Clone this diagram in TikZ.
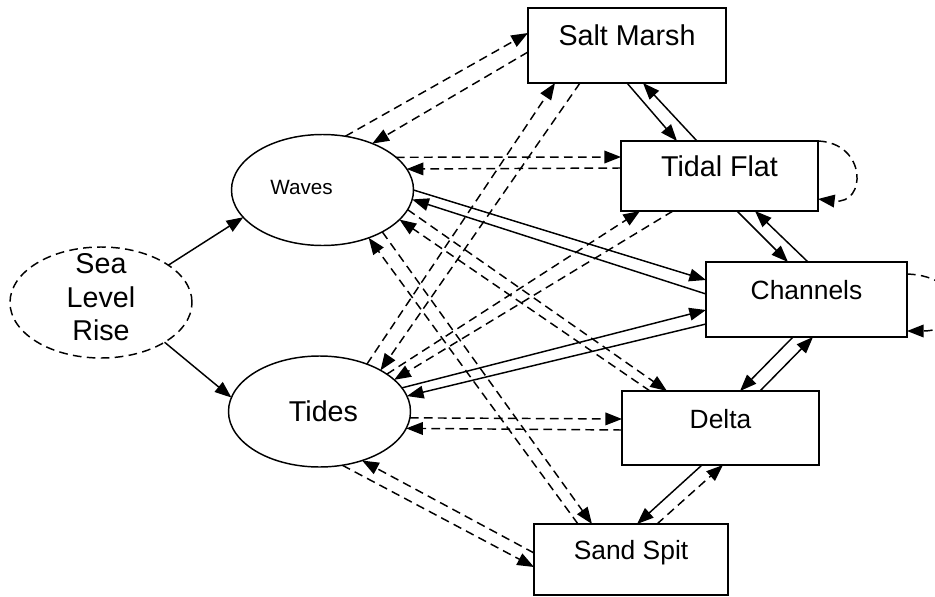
\documentclass[tikz,border=0pt]{standalone}
\usepackage{fontspec}
\setmainfont{Liberation Sans}
\usetikzlibrary{arrows.meta,shapes.geometric,calc}
\begin{document}
\begin{tikzpicture}[x=0.75pt,y=-0.75pt,
  every node/.style={inner sep=0pt, outer sep=0pt},
  ellnode/.style={ellipse, draw, line width=1.1pt, minimum width=136.5pt, minimum height=83.25pt},
  boxnode/.style={rectangle, draw, line width=1.2pt, text height=0pt, text depth=0pt},
  bigfont/.style={font=\fontsize{21.5pt}{25pt}\selectfont},
  midfont/.style={font=\fontsize{19.8pt}{24pt}\selectfont},
  dashpat/.style={dash pattern=on 6.5pt off 4pt},
  conn/.style={line width=1.1pt, -{Triangle[length=12.5pt,width=9.5pt]}},
  dconn/.style={conn, dashpat},
]
\useasboundingbox (0,0) rectangle (935,596);

% nodes
\node[ellnode, dashpat, bigfont, align=center, inner ysep=-10pt] (slr) at (101,302.5) {Sea\\Level\\Rise\rule[-8pt]{0pt}{8pt}};
\node[ellnode, font=\fontsize{15.5pt}{18pt}\selectfont, text height=6.45pt, text depth=0pt] (waves) at (322.5,190) {Waves\hspace*{31.5pt}};
\node[ellnode, bigfont, text height=15.3pt, text depth=0pt] (tides) at (319.5,411.5) {\hspace*{6pt}Tides};

\node[boxnode, bigfont, minimum width=148.5pt, minimum height=56.25pt] (sm) at (627,45.5) {Salt Marsh};
\node[boxnode, bigfont, minimum width=147.75pt, minimum height=52.5pt] (tf) at (719.5,176) {Tidal Flat};
\node[boxnode, midfont, minimum width=150.75pt, minimum height=56.25pt] (ch) at (806.5,299.5) {Channels};
\node[boxnode, midfont, minimum width=147.75pt, minimum height=55.5pt] (delta) at (720.5,428) {Delta};
\node[boxnode, midfont, minimum width=145.5pt, minimum height=53.25pt] (ss) at (631,559.5) {Sand Spit};

% sea level rise
\draw[conn] (slr.29) -- (waves.199);
\draw[conn] (slr.-32) -- (tides.171);

% waves - salt marsh
\draw[dconn] (waves.67) -- ($(sm.north west)+(0,25)$);
\draw[dconn] ($(sm.north west)+(0,44)$) -- (waves.43.5);
% waves - tidal flat
\draw[dconn] (waves.24) -- ($(tf.north west)+(0,16)$);
\draw[dconn] ($(tf.north west)+(0,27)$) -- (waves.14.6);
% waves - channels
\draw[conn] (waves.-0.6) -- ($(ch.north west)+(0,18)$);
\draw[conn] ($(ch.north west)+(0,32)$) -- (waves.-6.3);
% waves - delta
\draw[dconn] (waves.-13.2) -- ($(delta.north west)+(45,0)$);
\draw[dconn] ($(delta.north west)+(28,0)$) -- (waves.-21.9);
% waves - sand spit
\draw[dconn] (waves.-35.4) -- ($(ss.north west)+(58,0)$);
\draw[dconn] ($(ss.north west)+(44,0)$) -- (waves.-46.5);

% tides - salt marsh
\draw[dconn] (tides.45.7) -- ($(sm.south west)+(27,0)$);
\draw[dconn] ($(sm.south west)+(52,0)$) -- (tides.34.8);
% tides - tidal flat
\draw[dconn] (tides.29) -- ($(tf.south west)+(19,0)$);
\draw[dconn] ($(tf.south west)+(52,0)$) -- (tides.23.3);
% tides - channels
\draw[conn] (tides.16.4) -- ($(ch.north west)+(0,48)$);
\draw[conn] ($(ch.north west)+(0,62)$) -- (tides.10.3);
% tides - delta
\draw[dconn] (tides.-4.7) -- ($(delta.north west)+(0,28)$);
\draw[dconn] ($(delta.north west)+(0,39)$) -- (tides.-11.3);
% tides - sand spit
\draw[dconn] (tides.-67) -- ($(ss.north west)+(0,43)$);
\draw[dconn] ($(ss.north west)+(0,29)$) -- (tides.-49.3);

% salt marsh - tidal flat
\draw[conn] ($(sm.south west)+(99,0)$) -- ($(tf.north west)+(56,0)$);
\draw[conn] ($(tf.north west)+(76,0)$) -- ($(sm.south west)+(115,0)$);
% tidal flat - channels
\draw[conn] ($(tf.south west)+(116,0)$) -- ($(ch.north west)+(82,0)$);
\draw[conn] ($(ch.north west)+(102,0)$) -- ($(tf.south west)+(134,0)$);
% channels - delta
\draw[conn] ($(ch.south west)+(87,0)$) -- ($(delta.north west)+(118,0)$);
\draw[conn] ($(delta.north west)+(138,0)$) -- ($(ch.south west)+(107,0)$);
% delta - sand spit
\draw[conn] ($(delta.south west)+(80,0)$) -- ($(ss.north west)+(103,0)$);
\draw[dconn] ($(ss.north west)+(123,0)$) -- ($(delta.south west)+(101,0)$);

% self loops
\draw[dconn] (tf.north east) .. controls +(49,2) and +(49,6) .. ($(tf.north east)+(0,58)$);
\draw[dconn] ($(ch.north east)+(0,12)$) .. controls +(60,2) and +(60,0) .. ($(ch.north east)+(0,69)$);
\end{tikzpicture}
\end{document}
